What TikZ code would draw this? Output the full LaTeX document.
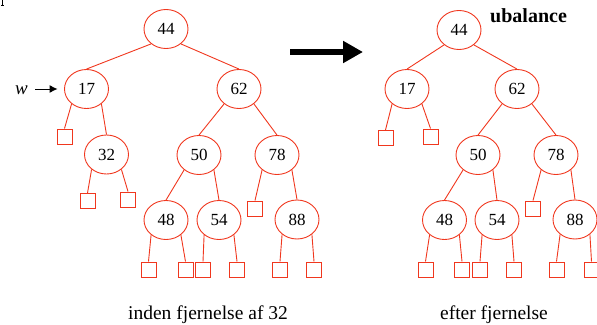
\documentclass[tikz,border=0pt]{standalone}
\usepackage{fontspec}
\setmainfont{Liberation Serif}
\usetikzlibrary{shapes.geometric,arrows.meta}
\definecolor{treered}{RGB}{240,55,30}
\tikzset{
  keynode/.style={ellipse,draw=treered,line width=0.9pt,minimum width=44pt,minimum height=39pt,inner sep=0pt,
    font=\fontsize{17}{20}\selectfont},
  leafbox/.style={rectangle,draw=treered,line width=1pt,minimum size=15pt,inner sep=0pt},
  treeedge/.style={draw=treered,line width=0.9pt},
  caption/.style={anchor=base,inner sep=0pt,font=\fontsize{19.5}{22}\selectfont},
}
\begin{document}
\begin{tikzpicture}[x=1pt,y=-1pt]
\useasboundingbox (0,0) rectangle (597,324);

% stray glyph stub in the corner
\draw[line width=1.1pt] (2.6,0) -- (2.6,4.6);
\draw[line width=0.7pt] (1,5) -- (4.2,5);

% ---------- tree before the removal ----------
\node[keynode] (a44) at (166,29) {44};
\node[keynode] (a17) at (86.5,89) {17};
\node[keynode] (a62) at (239,89) {62};
\node[keynode] (a32) at (106.5,154.5) {32};
\node[keynode] (a50) at (199,155) {50};
\node[keynode] (a78) at (277,155) {78};
\node[keynode] (a48) at (166,220) {48};
\node[keynode] (a54) at (219,220) {54};
\node[keynode] (a88) at (297,219.5) {88};
\node[leafbox] (a17l) at (64.5,136.5) {};
\node[leafbox] (a32l) at (87.5,201) {};
\node[leafbox] (a32r) at (128,199.5) {};
\node[leafbox] (a78l) at (255,208.5) {};
\node[leafbox] (a48l) at (148.5,269.5) {};
\node[leafbox] (a48r) at (185.5,269.5) {};
\node[leafbox] (a54l) at (203,269.5) {};
\node[leafbox] (a54r) at (237,269.5) {};
\node[leafbox] (a88l) at (280,269.5) {};
\node[leafbox] (a88r) at (314,269.5) {};

\draw[treeedge] (a44.225) -- (a17.north);
\draw[treeedge] (a44.315) -- (a62.north);
\draw[treeedge] (a17.225) -- (a17l.north);
\draw[treeedge] (a17.315) -- (a32.north);
\draw[treeedge] (a32.225) -- (a32l.north);
\draw[treeedge] (a32.315) -- (a32r.north);
\draw[treeedge] (a62.225) -- (a50.north);
\draw[treeedge] (a62.315) -- (a78.north);
\draw[treeedge] (a50.225) -- (a48.north);
\draw[treeedge] (a50.315) -- (a54.north);
\draw[treeedge] (a78.225) -- (a78l.north);
\draw[treeedge] (a78.315) -- (a88.north);
\draw[treeedge] (a48.225) -- (a48l.north);
\draw[treeedge] (a48.315) -- (a48r.north);
\draw[treeedge] (a54.225) -- (a54l.north);
\draw[treeedge] (a54.315) -- (a54r.north);
\draw[treeedge] (a88.225) -- (a88l.north);
\draw[treeedge] (a88.315) -- (a88r.north);

% pointer w
\node[anchor=base,inner sep=0pt,font=\fontsize{19}{22}\selectfont\itshape] (w) at (21.5,94.5) {w};
\draw[-{Latex[length=8pt,width=8pt]},line width=0.9pt,shorten <=7pt,shorten >=6.5pt] (w.east |- a17) -- (a17.west);

% ---------- transition arrow ----------
\coordinate (arrS) at (290,52);
\coordinate (arrE) at (363,52);
\draw[line width=6pt,-{Triangle[length=20pt,width=21pt]}] (arrS) -- (arrE);

% ---------- tree after the removal ----------
\node[keynode] (b44) at (459,30) {44};
\node[keynode] (b17) at (407,89) {17};
\node[keynode] (b62) at (517,89) {62};
\node[keynode] (b50) at (478,155) {50};
\node[keynode] (b78) at (556,155) {78};
\node[keynode] (b48) at (444.5,220) {48};
\node[keynode] (b54) at (497,220) {54};
\node[keynode] (b88) at (575,219.5) {88};
\node[leafbox] (b17l) at (385.5,138) {};
\node[leafbox] (b17r) at (430.5,136.5) {};
\node[leafbox] (b78l) at (533,208.5) {};
\node[leafbox] (b48l) at (425.5,269.5) {};
\node[leafbox] (b48r) at (462,269.5) {};
\node[leafbox] (b54l) at (480,269.5) {};
\node[leafbox] (b54r) at (514,269.5) {};
\node[leafbox] (b88l) at (556.5,269.5) {};
\node[leafbox] (b88r) at (591.5,269.5) {};

\draw[treeedge] (b44.225) -- (b17.north);
\draw[treeedge] (b44.315) -- (b62.north);
\draw[treeedge] (b17.225) -- (b17l.north);
\draw[treeedge] (b17.315) -- (b17r.north);
\draw[treeedge] (b62.225) -- (b50.north);
\draw[treeedge] (b62.315) -- (b78.north);
\draw[treeedge] (b50.225) -- (b48.north);
\draw[treeedge] (b50.315) -- (b54.north);
\draw[treeedge] (b78.225) -- (b78l.north);
\draw[treeedge] (b78.315) -- (b88.north);
\draw[treeedge] (b48.225) -- (b48l.north);
\draw[treeedge] (b48.315) -- (b48r.north);
\draw[treeedge] (b54.225) -- (b54l.north);
\draw[treeedge] (b54.315) -- (b54r.north);
\draw[treeedge] (b88.225) -- (b88l.north);
\draw[treeedge] (b88.315) -- (b88r.north);

% ---------- labels ----------
\node[anchor=base west,inner sep=0pt,font=\fontsize{20}{24}\selectfont\bfseries] (unbal) at (490,23) {ubalance};
\node[caption] (capA) at (208,319.5) {inden fjernelse af 32};
\node[caption] (capB) at (494,319.5) {efter fjernelse};
\end{tikzpicture}
\end{document}
